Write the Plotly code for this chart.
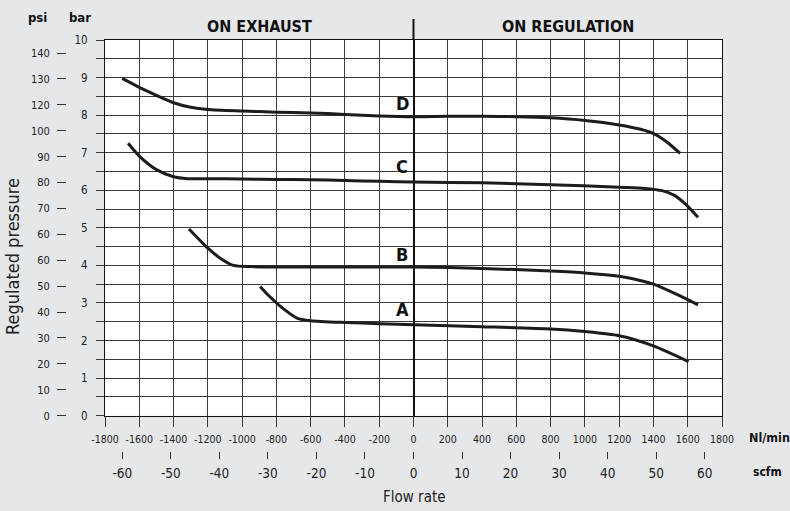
import plotly.graph_objects as go

# ---------------- data ----------------
flow_ticks = list(range(-1800, 1801, 200))
flow_ticktext = [str(v) for v in flow_ticks]
scfm_ticks = list(range(-60, 61, 10))
scfm_ticktext = [str(v) for v in scfm_ticks]
bar_ticks = [i * 0.5 for i in range(21)]
bar_ticktext = [str(int(v)) if v == int(v) else "" for v in bar_ticks]
psi_ticks = list(range(0, 141, 10))
psi_ticktext = ["0", "10", "20", "30", "40", "50", "60", "60", "70", "80", "90", "100", "120", "130", "140"]

d_x = [-1700, -1550, -1400, -1300, -1200, -1000, -800, -600, -400, -200, 0, 200, 400, 600, 800, 1000, 1200, 1320, 1410, 1480, 1556]
d_y = [8.98, 8.63, 8.33, 8.21, 8.15, 8.11, 8.08, 8.06, 8.02, 7.98, 7.96, 7.97, 7.97, 7.96, 7.93, 7.86, 7.74, 7.63, 7.49, 7.28, 6.98]

c_x = [-1665, -1600, -1500, -1400, -1320, -1200, -1000, -800, -600, -400, -200, 0, 400, 800, 1200, 1350, 1450, 1520, 1590, 1660]
c_y = [7.25, 6.91, 6.55, 6.36, 6.31, 6.31, 6.30, 6.29, 6.28, 6.26, 6.24, 6.22, 6.20, 6.15, 6.08, 6.05, 5.99, 5.87, 5.62, 5.28]

b_x = [-1310, -1200, -1130, -1050, -950, -800, -600, -400, -200, 0, 400, 800, 1000, 1200, 1340, 1400, 1540, 1660]
b_y = [4.97, 4.46, 4.20, 4.00, 3.97, 3.96, 3.96, 3.96, 3.96, 3.96, 3.92, 3.85, 3.80, 3.71, 3.58, 3.50, 3.22, 2.95]

a_x = [-895, -850, -760, -680, -600, -400, -200, 0, 400, 800, 1000, 1200, 1400, 1605]
a_y = [3.44, 3.22, 2.85, 2.60, 2.53, 2.48, 2.45, 2.42, 2.37, 2.31, 2.24, 2.13, 1.86, 1.44]

curve_names = ["D", "C", "B", "A"]
curve_label_y = [8.32, 6.63, 4.29, 2.84]
curve_label_x = -65
header_texts = ["ON EXHAUST", "ON REGULATION"]
header_x = [-900, 900]

NL_PER_SCF = 28.3168
PSI_PER_BAR = 14.5038

# ---------------- styling ----------------
W, H = 790, 511
ML, MR, MT, MB = 20, 68, 40, 5
PW, PH = W - ML - MR, H - MT - MB
def px_x(p):
    return (p - ML) / PW
def px_y(p):
    return (H - MB - p) / PH

x_dom0 = px_x(105)
y_dom0 = px_y(415.7)

FONT = "Liberation Sans Narrow, DejaVu Sans Condensed, Lato, sans-serif"
BG = "#e6e7e9"
GRID = "#3a3a3a"
INK = "#1c1c1c"

fig = go.Figure()
for xs, ys in [(d_x, d_y), (c_x, c_y), (b_x, b_y), (a_x, a_y)]:
    fig.add_trace(go.Scatter(x=xs, y=ys, mode="lines", line=dict(color=INK, width=3, shape="spline", smoothing=0.7),
                             hoverinfo="skip", showlegend=False))

fig.update_layout(
    width=W, height=H, margin=dict(l=ML, r=MR, t=MT, b=MB, autoexpand=False),
    paper_bgcolor=BG, plot_bgcolor="white", showlegend=False,
    font=dict(family=FONT, color="#222"),
    xaxis=dict(domain=[x_dom0, 1], range=[-1800, 1800], tickvals=flow_ticks, ticktext=flow_ticktext,
               showgrid=True, gridcolor=GRID, gridwidth=1, ticks="outside", ticklen=10, tickwidth=1, tickcolor=GRID,
               showline=True, linecolor="#111", linewidth=1.3, mirror=True,
               zeroline=True, zerolinecolor="#111", zerolinewidth=2, automargin=False,
               ticklabelstandoff=4,
               tickfont=dict(size=10.5, family=FONT, color="#222"), anchor="y"),
    yaxis=dict(domain=[y_dom0, 1], range=[0, 10], tickvals=bar_ticks, ticktext=bar_ticktext,
               showgrid=True, gridcolor=GRID, gridwidth=1, ticks="outside", ticklen=8, tickwidth=1, tickcolor=GRID,
               showline=True, linecolor="#111", linewidth=1.3, mirror=True, zeroline=False, automargin=False,
               ticklabelstandoff=6,
               tickfont=dict(size=11.5, family=FONT, color="#222"), anchor="x"),
    yaxis2=dict(overlaying="y", anchor="free", position=px_x(66), side="left",
                range=[0, 10 * PSI_PER_BAR], tickvals=psi_ticks, ticktext=psi_ticktext,
                showgrid=False, zeroline=False, showline=False, ticks="outside", ticklen=9, tickwidth=1.3,
                tickcolor="#333", ticklabelstandoff=5, automargin=False,
                tickfont=dict(size=11, family=FONT, color="#222")),
    xaxis2=dict(overlaying="x", anchor="free", position=px_y(451), side="bottom",
                range=[-1800 / NL_PER_SCF, 1800 / NL_PER_SCF], tickvals=scfm_ticks, ticktext=scfm_ticktext,
                showgrid=False, zeroline=False, showline=False, ticks="outside", ticklen=7, tickwidth=1.3,
                tickcolor="#333", automargin=False, ticklabelstandoff=3,
                tickfont=dict(size=13.5, family=FONT, color="#222")),
)
# dummy trace to activate secondary axes
fig.add_trace(go.Scatter(x=[None], y=[None], xaxis="x2", yaxis="y2", showlegend=False, hoverinfo="skip"))

# zero-flow divider extending into header
fig.add_shape(type="line", xref="x", yref="paper", x0=0, x1=0, y0=1, y1=px_y(19),
              line=dict(color="#111", width=2))

def note(text, x, y, size, xref="paper", yref="paper", xanchor="center", color="#111", **kw):
    return dict(text=text, x=x, y=y, xref=xref, yref=yref, xanchor=xanchor, yanchor="middle",
                showarrow=False, font=dict(size=size, family=FONT, color=color), **kw)

ann = []
for t, xv in zip(header_texts, header_x):
    ann.append(note(f"<b>{t}</b>", xv, px_y(27), 16, xref="x"))
for t, yv in zip(curve_names, curve_label_y):
    ann.append(note(f"<b>{t}</b>", curve_label_x, yv, 18, xref="x", yref="y"))
ann += [
    note("<b>psi</b>", px_x(37), px_y(18), 13),
    note("<b>bar</b>", px_x(80), px_y(18), 13),
    note("<b>Nl/min</b>", px_x(747), px_y(437), 12.5, xanchor="left"),
    note("<b>scfm</b>", px_x(751), px_y(472), 12, xanchor="left"),
    note("Flow rate", px_x(414), px_y(497), 15, color="#222"),
    note("Regulated pressure", px_x(12), px_y(257), 18, color="#222", textangle=-90),
]
fig.update_layout(annotations=ann)

fig.write_html("out.html", config={"displayModeBar": False},
               post_script="document.body.style.margin='0';document.body.style.padding='0';")
